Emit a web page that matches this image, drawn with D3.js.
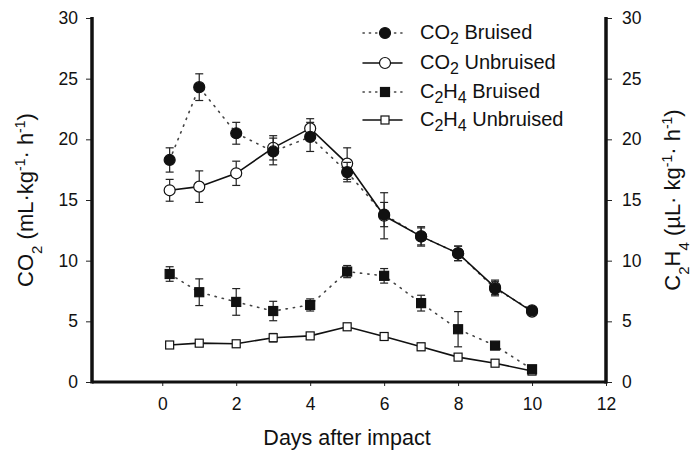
<!DOCTYPE html>
<html>
<head>
<meta charset="utf-8">
<script src="https://cdn.jsdelivr.net/npm/d3@7"></script>
<style>
  body { margin: 0; background: #fff; }
  text { font-family: Arial, "Liberation Sans", sans-serif; fill: #111; }
</style>
</head>
<body>
<div id="chart"></div>
<script>
// data
var days = [0.2, 1, 2, 3, 4, 5, 6, 7, 8, 9, 10];
var co2Bruised      = [18.3, 24.3, 20.5, 19.0, 20.2, 17.3, 13.8, 12.0, 10.6, 7.7, 5.9];
var co2BruisedErr   = [1.0, 1.1, 0.9, 1.1, 1.2, 0.8, 1.0, 0.8, 0.6, 0.6, 0.3];
var co2Unbruised    = [15.8, 16.1, 17.2, 19.3, 20.9, 18.0, 13.7, 12.0, 10.6, 7.8, 5.8];
var co2UnbruisedErr = [0.9, 1.3, 1.0, 1.0, 0.8, 1.3, 1.9, 0.7, 0.6, 0.6, 0.3];
var c2h4Bruised      = [8.9, 7.4, 6.6, 5.85, 6.35, 9.1, 8.75, 6.5, 4.35, 3.0, 1.05];
var c2h4BruisedErr   = [0.6, 1.1, 1.1, 0.8, 0.5, 0.5, 0.6, 0.65, 1.45, 0, 0.3];
var c2h4Unbruised    = [3.05, 3.2, 3.15, 3.65, 3.8, 4.55, 3.75, 2.9, 2.05, 1.55, 0.9];
var c2h4UnbruisedErr = [0.25, 0.25, 0.25, 0.35, 0.25, 0.2, 0.25, 0.3, 0.2, 0.2, 0.2];
var xTicks = [0, 2, 4, 6, 8, 10, 12];
var yTicks = [0, 5, 10, 15, 20, 25, 30];

var series = [
  {name: 'CO', sub: '2', rest: ' Bruised', vals: co2Bruised, err: co2BruisedErr, shape: 'circle', filled: true, dotted: true},
  {name: 'CO', sub: '2', rest: ' Unbruised', vals: co2Unbruised, err: co2UnbruisedErr, shape: 'circle', filled: false, dotted: false},
  {name: 'C', sub: '2', mid: 'H', sub2: '4', rest: ' Bruised', vals: c2h4Bruised, err: c2h4BruisedErr, shape: 'square', filled: true, dotted: true},
  {name: 'C', sub: '2', mid: 'H', sub2: '4', rest: ' Unbruised', vals: c2h4Unbruised, err: c2h4UnbruisedErr, shape: 'square', filled: false, dotted: false}
];

var W = 697, H = 452;
var pLeft = 92, pRight = 606, pTop = 18, pBottom = 382;

var svg = d3.select('#chart').append('svg')
  .attr('width', W).attr('height', H);

var x = d3.scaleLinear().domain([-1.9, 12]).range([pLeft, pRight]);
var y = d3.scaleLinear().domain([0, 30]).range([pBottom, pTop]);
var y2 = d3.scaleLinear().domain([0, 30]).range([pBottom, pTop]);

// axes
var gl = svg.append('g').attr('transform', 'translate(' + pLeft + ',0)')
  .call(d3.axisLeft(y).tickValues(yTicks).tickSize(6).tickPadding(8));
var gr = svg.append('g').attr('transform', 'translate(' + pRight + ',0)')
  .call(d3.axisRight(y2).tickValues(yTicks).tickSize(6).tickPadding(10));
var gb = svg.append('g').attr('transform', 'translate(0,' + pBottom + ')')
  .call(d3.axisBottom(x).tickValues(xTicks).tickSize(4).tickPadding(12));

[gl, gr, gb].forEach(function (g) {
  g.attr('font-size', 17.5).attr('font-family', 'Arial, "Liberation Sans", sans-serif');
  g.select('.domain').remove();
  g.selectAll('.tick line').attr('stroke', '#222');
  g.selectAll('.tick text').attr('fill', '#111');
});

// thick frame lines (left, right, bottom)
svg.append('line').attr('x1', pLeft).attr('x2', pLeft).attr('y1', pTop - 1).attr('y2', pBottom + 1.5)
  .attr('stroke', '#111').attr('stroke-width', 3.5);
svg.append('line').attr('x1', pRight).attr('x2', pRight).attr('y1', pTop - 1).attr('y2', pBottom + 1.5)
  .attr('stroke', '#111').attr('stroke-width', 3.5);
svg.append('line').attr('x1', pLeft).attr('x2', pRight).attr('y1', pBottom).attr('y2', pBottom)
  .attr('stroke', '#111').attr('stroke-width', 3);

// axis titles
svg.append('text')
  .attr('x', 347).attr('y', 445)
  .attr('text-anchor', 'middle').attr('font-size', 21.5)
  .text('Days after impact');

var lt = svg.append('text')
  .attr('transform', 'translate(33,' + 200 + ') rotate(-90)')
  .attr('text-anchor', 'middle').attr('font-size', 22);
lt.append('tspan').text('CO');
lt.append('tspan').attr('baseline-shift', 'sub').attr('font-size', 15).text('2');
lt.append('tspan').text(' (mL\u00b7kg');
lt.append('tspan').attr('baseline-shift', 'super').attr('font-size', 14).text('-1');
lt.append('tspan').text('\u00b7 h');
lt.append('tspan').attr('baseline-shift', 'super').attr('font-size', 14).text('-1');
lt.append('tspan').text(')');

var rt = svg.append('text')
  .attr('transform', 'translate(680,' + 200 + ') rotate(-90)')
  .attr('text-anchor', 'middle').attr('font-size', 22);
rt.append('tspan').text('C');
rt.append('tspan').attr('baseline-shift', 'sub').attr('font-size', 15).text('2');
rt.append('tspan').text('H');
rt.append('tspan').attr('baseline-shift', 'sub').attr('font-size', 15).text('4');
rt.append('tspan').text(' (\u00b5L\u00b7 kg');
rt.append('tspan').attr('baseline-shift', 'super').attr('font-size', 14).text('-1');
rt.append('tspan').text('\u00b7 h');
rt.append('tspan').attr('baseline-shift', 'super').attr('font-size', 14).text('-1');
rt.append('tspan').text(')');

var line = d3.line()
  .x(function (d) { return x(d[0]); })
  .y(function (d) { return y(d[1]); });

function drawMarker(g, s, cx, cy) {
  if (s.shape === 'circle') {
    g.append('circle').attr('cx', cx).attr('cy', cy).attr('r', 5.5)
      .attr('fill', s.filled ? '#111' : '#fff')
      .attr('stroke', '#111').attr('stroke-width', 1.2);
  } else {
    var a = s.filled ? 9 : 8;
    g.append('rect').attr('x', cx - a / 2).attr('y', cy - a / 2)
      .attr('width', a).attr('height', a)
      .attr('fill', s.filled ? '#111' : '#fff')
      .attr('stroke', '#111').attr('stroke-width', 1.2);
  }
}

// lines first, then error bars and markers (bruised markers on top)
var lineLayer = svg.append('g');
var markLayerU = svg.append('g');
var markLayerB = svg.append('g');

series.forEach(function (s) {
  var pts = days.map(function (d, j) { return [d, s.vals[j], s.err[j]]; });

  lineLayer.append('path').datum(pts)
    .attr('d', line)
    .attr('fill', 'none')
    .attr('stroke', s.dotted ? '#444' : '#111')
    .attr('stroke-width', 1.6)
    .attr('stroke-dasharray', s.dotted ? '1.3,6' : null)
    .attr('stroke-linecap', 'round');

  var g = s.filled ? markLayerB : markLayerU;
  pts.forEach(function (p) {
    if (p[2] > 0) {
      var px = x(p[0]);
      var y1 = y(p[1] + p[2]), y0 = y(p[1] - p[2]);
      g.append('line').attr('x1', px).attr('x2', px).attr('y1', y1).attr('y2', y0)
        .attr('stroke', '#222').attr('stroke-width', 1.2);
      g.append('line').attr('x1', px - 4).attr('x2', px + 4).attr('y1', y1).attr('y2', y1)
        .attr('stroke', '#222').attr('stroke-width', 1.2);
      g.append('line').attr('x1', px - 4).attr('x2', px + 4).attr('y1', y0).attr('y2', y0)
        .attr('stroke', '#222').attr('stroke-width', 1.2);
    }
    drawMarker(g, s, x(p[0]), y(p[1]));
  });
});

// legend
var legY = [33, 63, 92, 120];
series.forEach(function (s, i) {
  var g = svg.append('g').attr('transform', 'translate(0,' + legY[i] + ')');
  g.append('line').attr('x1', 363).attr('x2', 402).attr('y1', 0).attr('y2', 0)
    .attr('stroke', s.dotted ? '#444' : '#111')
    .attr('stroke-width', 1.5)
    .attr('stroke-dasharray', s.dotted ? '1.3,5' : null)
    .attr('stroke-linecap', 'round');
  drawMarker(g, s, 385, 0);
  var t = g.append('text').attr('x', 420).attr('y', 6).attr('font-size', 20);
  t.append('tspan').text(s.name);
  t.append('tspan').attr('dy', 5).attr('font-size', 16).text(s.sub);
  if (s.mid) {
    t.append('tspan').attr('dy', -5).text(s.mid);
    t.append('tspan').attr('dy', 5).attr('font-size', 16).text(s.sub2);
  }
  t.append('tspan').attr('dy', -5).text(s.rest);
});
</script>
</body>
</html>
